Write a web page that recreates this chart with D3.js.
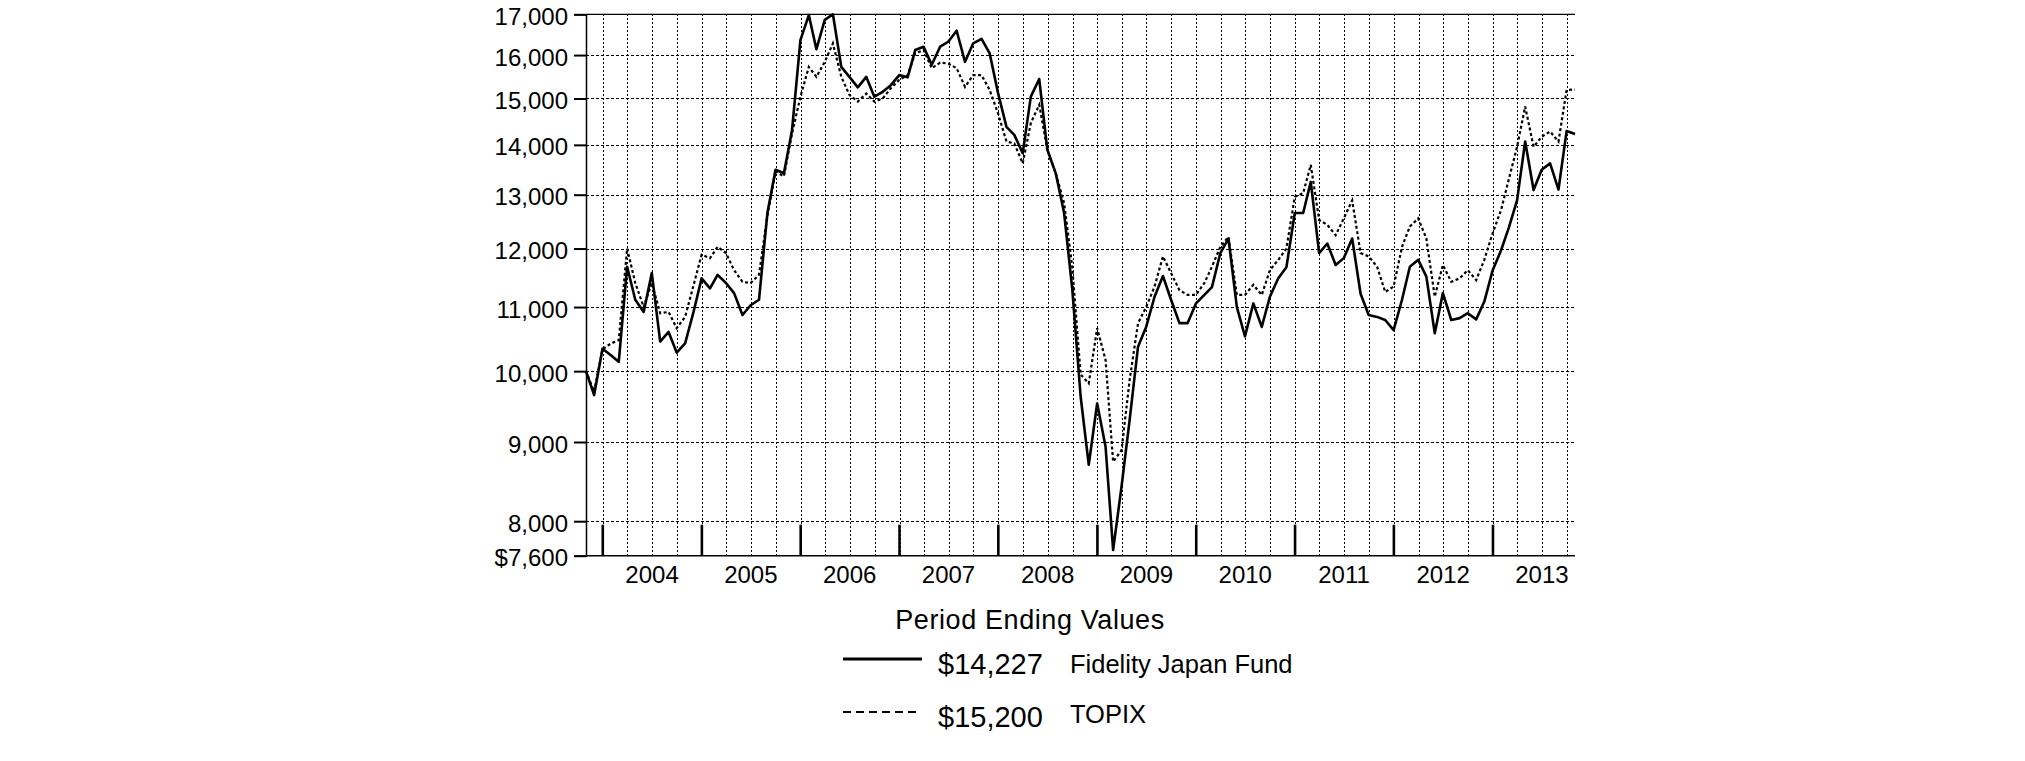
<!DOCTYPE html>
<html>
<head>
<meta charset="utf-8">
<script src="https://cdn.jsdelivr.net/npm/d3@7"></script>
<style>
  html, body { margin: 0; padding: 0; background: #fff; }
  svg { display: block; }
  text { font-family: "Liberation Sans", Arial, Helvetica, sans-serif; fill: #000; }
</style>
</head>
<body>
<svg id="chart" width="2025" height="761"></svg>
<script>
// ---- data ----
const startDate = new Date(2003, 9, 31);   // period start (month-end)
const endDate = new Date(2013, 9, 31);     // period end
const yearLabels = ["2004","2005","2006","2007","2008","2009","2010","2011","2012","2013"];
const yTickValues = [7600, 8000, 9000, 10000, 11000, 12000, 13000, 14000, 15000, 16000, 17000];
const yTickLabels = ["$7,600","8,000","9,000","10,000","11,000","12,000","13,000","14,000","15,000","16,000","17,000"];

const fundValues = [
  10000, 9650, 10340, 10240, 10140, 11680, 11120, 10920, 11570, 10450,
  10600, 10280, 10420, 10900, 11480, 11310, 11540, 11400, 11230, 10870,
  11030, 11120, 12650, 13490, 13420, 14310, 16360, 16980, 16140, 16860,
  17000, 15720, 15490, 15250, 15490, 15040, 15150, 15300, 15530, 15480,
  16120, 16200, 15770, 16200, 16320, 16590, 15840, 16280, 16390, 16040,
  15120, 14380, 14210, 13830, 15040, 15440, 13900, 13420, 12650, 11300,
  9630, 8700, 9530, 8940, 7665, 8420, 9300, 10370, 10680, 11170,
  11520, 11120, 10740, 10740, 11060, 11200, 11330, 11920, 12180, 11000,
  10530, 11060, 10680, 11170, 11480, 11670, 12650, 12650, 13250, 11920,
  12090, 11710, 11830, 12180, 11220, 10870, 10840, 10790, 10630, 11120,
  11680, 11800, 11510, 10580, 11230, 10790, 10820, 10900, 10800, 11090,
  11620, 11970, 12370, 12890, 14070, 13090, 13490, 13620, 13100, 14290,
  14227
];
const topixValues = [
  10000, 9700, 10330, 10420, 10470, 12000, 11400, 11000, 11400, 10900,
  10920, 10660, 10840, 11340, 11890, 11830, 12030, 11920, 11620, 11420,
  11400, 11540, 12600, 13450, 13360, 14240, 15040, 15720, 15490, 15840,
  16280, 15490, 15080, 14930, 15110, 14930, 15000, 15230, 15420, 15530,
  16040, 16120, 15690, 15820, 15800, 15690, 15260, 15530, 15530, 15190,
  14670, 14070, 14030, 13620, 14460, 14860, 13900, 13420, 12840, 11680,
  9950, 9820, 10660, 10170, 8740, 8890, 9870, 10740, 11000, 11340,
  11860, 11570, 11280, 11200, 11200, 11400, 11680, 12030, 12210, 11200,
  11200, 11370, 11200, 11620, 11800, 12000, 12960, 13030, 13590, 12520,
  12430, 12240, 12550, 12890, 11920, 11860, 11680, 11250, 11340, 12030,
  12400, 12550, 12180, 11170, 11710, 11420, 11480, 11620, 11450, 11800,
  12280, 12710, 13290, 13960, 14820, 13960, 14170, 14280, 14070, 15190,
  15200
];
const seriesNames = ["Fidelity Japan Fund", "TOPIX"];
const endingValues = ["$14,227", "$15,200"];

// ---- layout ----
const svg = d3.select("#chart");
const pLeft = 586, pRight = 1575, pTop = 14.3, pBottom = 555.7;

// month-end dates for each observation
const dates = fundValues.map((d, i) => new Date(2003, 10 + i, 0));

const x = d3.scaleTime().domain([startDate, endDate]).range([pLeft, pRight]);
const y = d3.scaleLog().domain([7600, 17000]).range([pBottom, pTop]);

// horizontal grid
svg.append("g").selectAll("line")
  .data(yTickValues.filter(v => v > 7600 && v < 17000))
  .join("line")
  .attr("x1", pLeft).attr("x2", pRight)
  .attr("y1", d => Math.round(y(d)) + 0.5).attr("y2", d => Math.round(y(d)) + 0.5)
  .attr("stroke", "#000").attr("stroke-width", 1)
  .attr("stroke-dasharray", "3,2")
  .attr("shape-rendering", "crispEdges");

// vertical grid (quarterly)
const quarters = d3.timeMonth.every(3).range(new Date(2004, 0, 1), endDate);
svg.append("g").selectAll("line")
  .data(quarters)
  .join("line")
  .attr("x1", d => Math.round(x(d)) + 0.5).attr("x2", d => Math.round(x(d)) + 0.5)
  .attr("y1", pTop).attr("y2", pBottom)
  .attr("stroke", "#000").attr("stroke-width", 1)
  .attr("stroke-dasharray", "2,2")
  .attr("shape-rendering", "crispEdges");

// top border
svg.append("line").attr("x1", pLeft).attr("x2", pRight).attr("y1", pTop).attr("y2", pTop)
  .attr("stroke", "#000").attr("stroke-width", 1.3);

// y axis
const yAxis = d3.axisLeft(y).tickValues(yTickValues)
  .tickFormat((d, i) => yTickLabels[i]).tickSize(12).tickPadding(6);
const gy = svg.append("g").attr("transform", `translate(${pLeft},0)`).call(yAxis);
gy.select(".domain").attr("stroke", "#000").attr("stroke-width", 1.5);
gy.selectAll(".tick line").attr("stroke", "#000").attr("stroke-width", 2);
gy.selectAll(".tick text").attr("font-size", 24)
  .attr("font-family", "Liberation Sans, Arial, sans-serif").attr("dy", "0.42em");

// x axis baseline
svg.append("line").attr("x1", pLeft).attr("x2", pRight).attr("y1", pBottom).attr("y2", pBottom)
  .attr("stroke", "#000").attr("stroke-width", 1.5);

// year ticks (inside)
const yearStarts = d3.timeYear.range(new Date(2004, 0, 1), endDate);
svg.append("g").selectAll("line").data(yearStarts).join("line")
  .attr("x1", d => x(d)).attr("x2", d => x(d))
  .attr("y1", pBottom - 31).attr("y2", pBottom)
  .attr("stroke", "#000").attr("stroke-width", 2.6);

// year labels (mid-year)
svg.append("g").selectAll("text").data(yearLabels).join("text")
  .attr("x", d => x(new Date(+d, 6, 1)))
  .attr("y", 583)
  .attr("text-anchor", "middle")
  .attr("font-size", 24)
  .text(d => d);

// lines
const line = d3.line().x((d, i) => x(dates[i])).y(d => y(d));
svg.append("path").datum(topixValues)
  .attr("d", line).attr("fill", "none").attr("stroke", "#000")
  .attr("stroke-width", 2.2).attr("stroke-dasharray", "3,2.5");
svg.append("path").datum(fundValues)
  .attr("d", line).attr("fill", "none").attr("stroke", "#000")
  .attr("stroke-width", 2.6).attr("stroke-linejoin", "round");

// legend
svg.append("text").attr("x", 1030).attr("y", 629).attr("text-anchor", "middle")
  .attr("font-size", 27).attr("letter-spacing", 0.6).text("Period Ending Values");

const legendRows = [
  {ly: 659, ty: 674, ny: 673, dash: null, w: 3},
  {ly: 712, ty: 727, ny: 723, dash: "8,5", w: 2}
];
legendRows.forEach((r, i) => {
  svg.append("line").attr("x1", 843).attr("x2", i === 0 ? 922 : 917)
    .attr("y1", r.ly).attr("y2", r.ly)
    .attr("stroke", "#000").attr("stroke-width", r.w)
    .attr("stroke-dasharray", r.dash);
  svg.append("text").attr("x", 938).attr("y", r.ty).attr("font-size", 29).text(endingValues[i]);
  svg.append("text").attr("x", 1070).attr("y", r.ny).attr("font-size", 25.5).text(seriesNames[i]);
});
</script>
</body>
</html>
